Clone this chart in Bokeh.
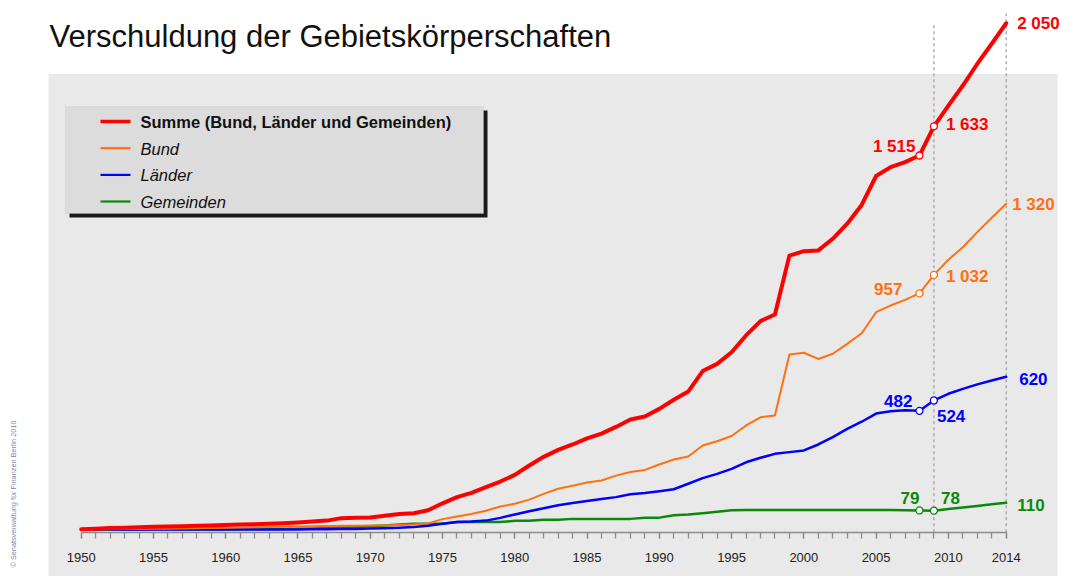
import math
from bokeh.plotting import figure
from bokeh.models import (Range1d, LinearAxis, FixedTicker, BoxAnnotation, Label,
                          ColumnDataSource)
from bokeh.core.properties import value
from bokeh.embed import file_html
from bokeh.resources import INLINE

# ---------------- data (billion EUR) ----------------
years = list(range(1950, 2015))

summe = [3, 5, 8, 9, 11, 13, 14, 15, 17, 18,
         20, 22, 23, 25, 27, 30, 34, 38, 48, 50,
         51, 58, 65, 68, 80, 108, 133, 150, 173, 196,
         223, 261, 296, 324, 346, 371, 390, 417, 447, 459,
         490, 527, 560, 643, 672, 719, 787, 845, 872, 1110,
         1128, 1131, 1178, 1239, 1315, 1432, 1468, 1488, 1515, 1633,
         1717, 1798, 1886, 1967, 2050]

bund = [2, 3, 3, 4, 4, 5, 5, 6, 7, 8,
        9, 10, 11, 12, 13, 14, 15, 16, 17, 17,
        18, 19, 20, 22, 26, 44, 55, 65, 78, 95,
        106, 123, 146, 167, 179, 192, 200, 220, 235, 243,
        265, 285, 297, 342, 359, 380, 423, 456, 463, 710,
        717, 692, 713, 753, 796, 881, 908, 931, 957, 1032,
        1093, 1144, 1205, 1263, 1320]

laender = [2, 2, 2, 2, 2, 2, 2, 2, 2, 2,
           2, 2, 2, 2, 2, 2, 3, 3, 4, 4,
           6, 7, 9, 12, 17, 25, 32, 34, 38, 49,
           63, 76, 88, 100, 109, 117, 125, 133, 145, 150,
           157, 165, 187, 210, 227, 247, 274, 292, 308, 315,
           322, 346, 376, 409, 438, 471, 480, 484, 482, 524,
           551, 571, 589, 605, 620]

gemeinden = [1, 1, 1, 1, 1, 2, 2, 2, 2, 2,
             2, 3, 3, 3, 4, 5, 6, 8, 10, 12,
             15, 18, 22, 25, 25, 25, 32, 32, 32, 32,
             37, 37, 41, 41, 45, 45, 45, 45, 45, 50,
             50, 60, 63, 68, 74, 80, 81, 81, 81, 81,
             81, 81, 81, 81, 81, 81, 81, 80, 79, 78,
             85, 91, 97, 104, 110]

tick_years = [1950, 1955, 1960, 1965, 1970, 1975, 1980, 1985, 1990, 1995,
              2000, 2005, 2010, 2014]
marked_years = [2008, 2009]
dashed_years = [2009, 2014]

title_text = "Verschuldung der Gebietskörperschaften"
legend_labels = ["Summe (Bund, Länder und Gemeinden)", "Bund", "Länder", "Gemeinden"]
credit_text = "© Senatsverwaltung für Finanzen Berlin 2010"

# ---------------- styling ----------------
FONT = "Liberation Sans"
W, H = 1071, 576
OFF = 0  # canvas offset in the page
C_RED, C_ORANGE, C_BLUE, C_GREEN = "#ff0000", "#ff7010", "#0000ff", "#0a8a0a"
BG_GRAY = "#e9e9e9"

# pixel geometry helpers (screen px -> data)
SX0, PX_YEAR = 80.7, 14.453     # screen x of 1950, px per year
SY0, PX_VAL = 529.5, 0.2472     # screen y of value 0, px per bn


def dx(sx):
    return 1950 + (sx - SX0) / PX_YEAR


def dy(sy):
    return (SY0 - sy) / PX_VAL


p = figure(width=W, height=H, title=None,
           x_range=Range1d(dx(OFF), dx(OFF + W)), y_range=Range1d(dy(OFF + H), dy(OFF)),
           x_axis_type=None, y_axis_type=None,
           output_backend="svg", toolbar_location=None,
           min_border=0, outline_line_color=None,
           background_fill_color="white", border_fill_color="white")

# gray panel
p.add_layout(BoxAnnotation(left=dx(48), right=dx(1057), top=dy(73.5), bottom=dy(620),
                           fill_color=BG_GRAY, fill_alpha=1, line_color=None,
                           level="underlay"))

# axis
axis_val = dy(531.7)
xaxis = LinearAxis(fixed_location=axis_val, bounds=(1950, 2014),
                   ticker=FixedTicker(ticks=tick_years, minor_ticks=years),
                   axis_line_color="#8c8c8c", axis_line_width=1.6,
                   major_tick_line_color="#8c8c8c", minor_tick_line_color="#8c8c8c",
                   major_tick_line_width=1.3, minor_tick_line_width=1.3,
                   major_tick_in=0, major_tick_out=6, minor_tick_in=0, minor_tick_out=6,
                   major_label_text_font=FONT, major_label_text_font_size="13px",
                   major_label_text_color="#222222", major_label_standoff=15)
p.add_layout(xaxis, "below")

# dashed verticals
p.segment(x0=dashed_years, x1=dashed_years, y0=[axis_val, axis_val],
          y1=[dy(22), dy(13)], line_color="#9a9a9a", line_width=1.2, line_dash="3 3")

series = [
    (summe, C_RED, 4.0),
    (bund, C_ORANGE, 2.0),
    (laender, C_BLUE, 2.5),
    (gemeinden, C_GREEN, 2.5),
]
for vals, col, lw in reversed(series):
    p.line(years, vals, line_color=col, line_width=lw, line_join="round", line_cap="round")

# markers at 2008, 2009
for vals, col, lw in series:
    mv = [vals[years.index(y)] for y in marked_years]
    p.scatter(marked_years, mv, size=7, marker="circle", fill_color="white",
              line_color=col, line_width=1.3)

# value labels: (year, align, x_off, y_off of visual centre) per series
label_layout = {
    C_RED: [(2008, "right", -4, -8.5), (2009, "left", 12, -2), (2014, "left", 11, 0)],
    C_ORANGE: [(2008, "right", -17, -4), (2009, "left", 12, 1.5), (2014, "left", 6, 1)],
    C_BLUE: [(2008, "right", -7, -9.5), (2009, "left", 3, 15.5), (2014, "left", 13, 2)],
    C_GREEN: [(2008, "right", 0, -12.5), (2009, "left", 7, -13), (2014, "left", 11, 2)],
}
for vals, col, lw in series:
    for align in ("left", "right"):
        rows = [r for r in label_layout[col] if r[1] == align]
        if not rows:
            continue
        xs = [r[0] for r in rows]
        ys = [vals[years.index(r[0])] for r in rows]
        src = ColumnDataSource(dict(
            x=xs, y=ys,
            text=[f"{v:,}".replace(",", " ") for v in ys],
            xo=[r[2] for r in rows], yo=[r[3] for r in rows]))
        p.text(x="x", y="y", text="text", source=src, x_offset="xo", y_offset="yo",
               text_font=value(FONT), text_font_size=value("17px"),
               text_font_style="bold", text_color=col,
               text_align=align, text_baseline="alphabetic")

# title
p.add_layout(Label(x=dx(49), y=dy(36), text=title_text, text_font=FONT,
                   text_font_size="31px", text_color="#111111",
                   text_baseline="alphabetic", text_align="left"))

# credit (rotated)
p.add_layout(Label(x=dx(13.3), y=dy(567), text=credit_text, text_font=FONT,
                   text_font_size="7.3px", text_color="#8088a8", angle=math.pi / 2,
                   text_baseline="alphabetic", text_align="left"))

# legend box with shadow
p.add_layout(BoxAnnotation(left=dx(69), right=dx(487), top=dy(110), bottom=dy(217),
                           fill_color="#1a1a1a", fill_alpha=1, line_color=None))
p.add_layout(BoxAnnotation(left=dx(65), right=dx(483), top=dy(106), bottom=dy(213),
                           fill_color="#dcdcdc", fill_alpha=1, line_color="#c4c4c4",
                           line_width=1))
row_y = [121, 147.7, 174.4, 201]
for i, (lab, (vals, col, lw)) in enumerate(zip(legend_labels, series)):
    p.segment(x0=[dx(100)], x1=[dx(130)], y0=[dy(row_y[i])], y1=[dy(row_y[i])],
              line_color=col, line_width=3.5 if i == 0 else 2.2, level="overlay")
    p.add_layout(Label(x=dx(140), y=dy(row_y[i] + 0.5), text=lab, text_font=FONT,
                       text_font_size="16.5px", text_color="#111111",
                       text_font_style="bold" if i == 0 else "italic",
                       text_baseline="alphabetic", level="overlay"))

open("out.html", "w").write(file_html(p, INLINE))
